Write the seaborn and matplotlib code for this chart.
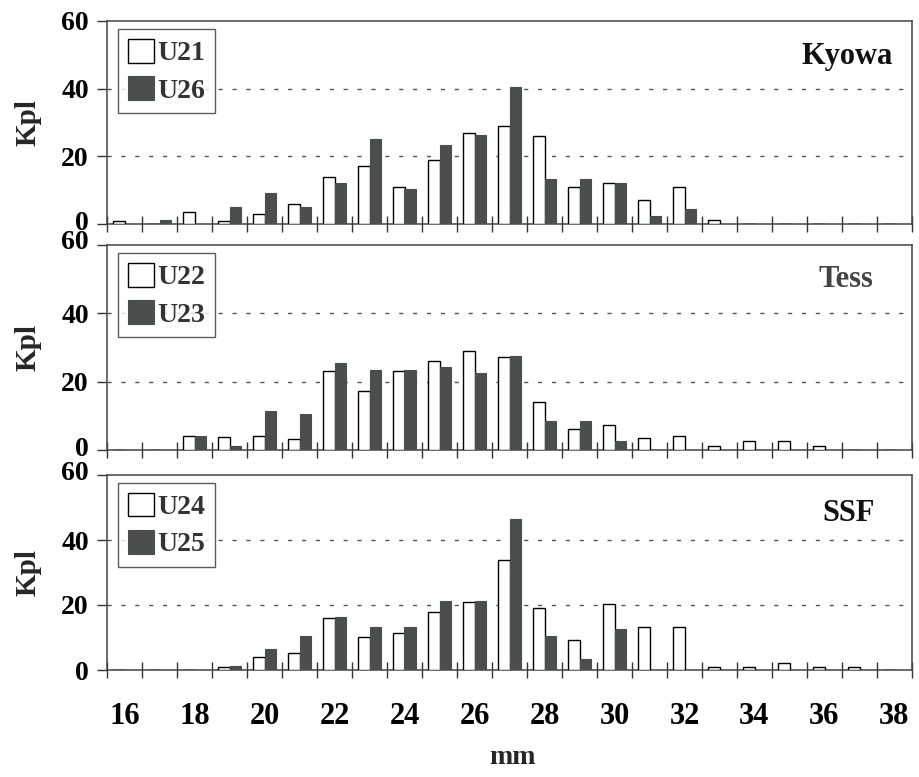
import matplotlib
matplotlib.use("Agg")
import matplotlib.pyplot as plt
import matplotlib.transforms as mtransforms
import seaborn as sns
import pandas as pd

sizes = [16, 17, 18, 19, 20, 21, 22, 23, 24, 25, 26, 27, 28, 29, 30, 31, 32, 33, 34, 35, 36, 37, 38]
x_ticklabels = ["16", "18", "20", "22", "24", "26", "28", "30", "32", "34", "36", "38"]

panel_names = ["Kyowa", "Tess", "SSF"]
series_names = [("U21", "U26"), ("U22", "U23"), ("U24", "U25")]

u21 = [1, 0, 3.6, 1, 2.9, 5.9, 13.8, 17, 10.8, 19, 27, 29, 26, 11, 12.2, 7, 11, 1.2, 0, 0, 0, 0, 0]
u26 = [0, 1.2, 0, 5.1, 9.1, 5.1, 12.2, 25, 10.3, 23.4, 26.3, 40.5, 13.4, 13.4, 12.2, 2.4, 4.3, 0, 0, 0, 0, 0, 0]
u22 = [0, 0, 4.0, 3.9, 4.0, 3.1, 23, 17.2, 23, 26.1, 29, 27.1, 14, 6.2, 7.4, 3.4, 4.2, 1.3, 2.5, 2.5, 1.3, 0, 0]
u23 = [0, 0, 4.1, 1.3, 11.4, 10.6, 25.4, 23.4, 23.4, 24.4, 22.5, 27.4, 8.4, 8.4, 2.5, 0, 0, 0, 0, 0, 0, 0, 0]
u24 = [0, 0, 0, 0.8, 3.9, 5.1, 15.9, 10.1, 11.3, 17.9, 20.8, 33.8, 19, 9.2, 20.2, 13.1, 13.3, 1, 1, 2.2, 1, 1, 0]
u25 = [0, 0, 0, 1.2, 6.4, 10.5, 16.4, 13.3, 13.3, 21.3, 21.3, 46.4, 10.5, 3.3, 12.5, 0, 0, 0, 0, 0, 0, 0, 0]
series_values = [(u21, u26), (u22, u23), (u24, u25)]

y_ticks = [0, 20, 40, 60]

sns.set_theme(style="white")
plt.rcParams['font.family'] = ['Liberation Serif', 'DejaVu Serif']

DARK = "#4a4f4e"
fig = plt.figure(figsize=(9.19, 7.77), dpi=100)
W, H = 919, 777
# axes boxes in pixels: (left, top, right, bottom)
boxes = [(107, 21, 912, 224), (107, 245, 912, 450), (107, 475, 912, 670)]
label_pos = [(0.976, 0.823, "#111111"), (0.952, 0.83, "#444444"), (0.954, 0.805, "#111111")]

for i, (l, t, r, b) in enumerate(boxes):
    ax = fig.add_axes([l / W, 1 - b / H, (r - l) / W, (b - t) / H])
    s1, s2 = series_names[i]
    v1, v2 = series_values[i]
    df = pd.DataFrame({
        "size": [str(s) for s in sizes] * 2,
        "value": list(v1) + list(v2),
        "series": [s1] * len(sizes) + [s2] * len(sizes),
    })
    sns.barplot(data=df, x="size", y="value", hue="series",
                order=[str(s) for s in sizes], hue_order=[s1, s2],
                palette={s1: "white", s2: DARK}, width=0.66, gap=0,
                saturation=1, legend=False, ax=ax, zorder=3)
    for p in ax.containers[0]:
        p.set_edgecolor("black")
        p.set_linewidth(1.0)
    for p in ax.containers[1]:
        p.set_edgecolor(DARK)
        p.set_linewidth(0.8)

    ax.set_xlim(-0.5, len(sizes) - 0.5)
    ax.set_ylim(0, 60)
    ax.set_yticks(y_ticks)
    ax.set_yticklabels([str(v) for v in y_ticks], fontsize=20, fontweight="bold")
    ax.tick_params(axis="y", direction="out", length=7, width=1, pad=6,
                   colors="#333333", labelcolor="black", left=True)
    # nudge the stacked 0 / 60 labels apart a little, as in the reference
    ylabels = ax.get_yticklabels()
    if i < 2:
        ylabels[0].set_transform(ylabels[0].get_transform() +
                                 mtransforms.ScaledTranslation(0, 3 / 100, fig.dpi_scale_trans))
    if i > 0:
        ylabels[-1].set_transform(ylabels[-1].get_transform() +
                                  mtransforms.ScaledTranslation(0, 5 / 100, fig.dpi_scale_trans))
    # boundary ticks
    ax.set_xticks([k - 0.5 for k in range(len(sizes) + 1)])
    ax.set_xticklabels([])
    ax.tick_params(axis="x", which="major", direction="inout", length=12,
                   width=1, colors="#333333", bottom=True)
    if i == 2:
        ax.set_xticks([k for k in range(0, len(sizes), 2)], minor=True)
        ax.set_xticklabels(x_ticklabels, minor=True, fontsize=22, fontweight="bold")
        ax.tick_params(axis="x", which="minor", length=0, pad=23, labelcolor="black")
    ax.set_xlabel("")
    ax.set_ylabel("")
    for y in (20, 40):
        ax.axhline(y, color="#555555", linestyle=(0, (3, 7)), linewidth=1.0, zorder=1)
    for sp in ax.spines.values():
        sp.set_visible(True)
        sp.set_color("#444444")
        sp.set_linewidth(1.1)

    leg = ax.legend(handles=[ax.containers[0][0], ax.containers[1][0]],
                    labels=[s1, s2], loc="upper left",
                    bbox_to_anchor=(0.014, 0.96),
                    prop={"size": 20, "weight": "bold"},
                    frameon=True, fancybox=False, edgecolor="#333333",
                    handlelength=0.95, handleheight=0.95, handletextpad=0.1,
                    labelspacing=0.35, borderpad=0.35, borderaxespad=0.0)
    leg.get_frame().set_linewidth(1.0)
    for txt in leg.get_texts():
        txt.set_color("#333333")

    lx, ly, col = label_pos[i]
    ax.text(lx, ly, panel_names[i], transform=ax.transAxes, ha="right", va="center",
            fontsize=22, fontweight="bold", color=col)

    fig.text(28 / W, 1 - ((t + b) / 2) / H, "Kpl", rotation=90, ha="center", va="center",
             fontsize=21, fontweight="bold")

fig.text(512 / W, 1 - 757 / H, "mm", ha="center", va="center", fontsize=20, fontweight="bold")

fig.savefig("out.png", dpi=100)
